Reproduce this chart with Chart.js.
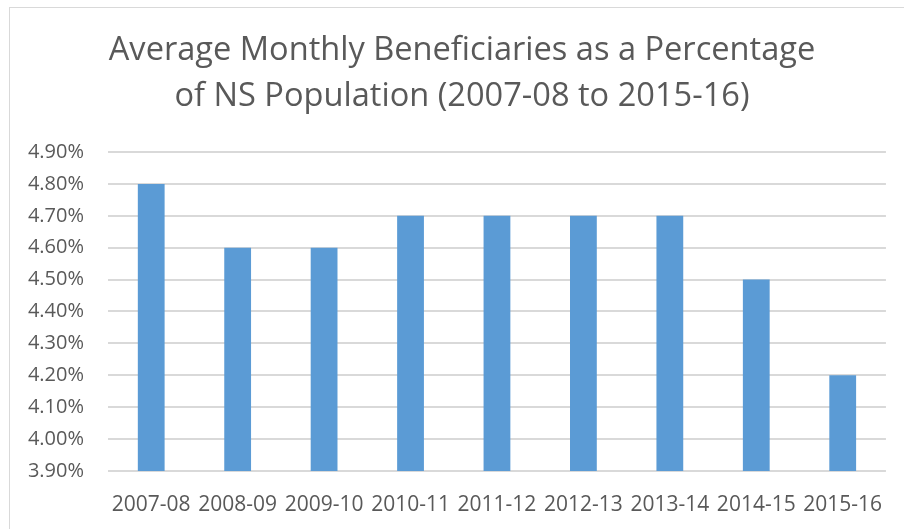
<!DOCTYPE html>
<html>
<head>
<meta charset="utf-8">
<script src="https://cdn.jsdelivr.net/npm/chart.js@4/dist/chart.umd.min.js"></script>
<style>
    html, body { margin: 0; padding: 0; background: #fff; overflow: hidden; }
    #frame { position: absolute; left: 9px; top: 7px; width: 920px; height: 540px; border: 1px solid #d9d9d9; }
    #wrap { position: absolute; left: 0; top: 0; width: 904px; height: 529px; }
</style>
</head>
<body>
<div id="frame"></div>
<div id="wrap"><canvas id="myChart"></canvas></div>
<script>
    const titleLines = ['Average Monthly Beneficiaries as a Percentage', 'of NS Population (2007-08 to 2015-16)'];
    const years = ['2007-08', '2008-09', '2009-10', '2010-11', '2011-12', '2012-13', '2013-14', '2014-15', '2015-16'];
    const percentValues = [4.8, 4.6, 4.6, 4.7, 4.7, 4.7, 4.7, 4.5, 4.2];
    const yMin = 3.9;
    const yMax = 4.9;
    const yStep = 0.1;

    const ctx = document.getElementById('myChart');
    const textColor = '#595959';
    const gridColor = '#d9d9d9';

    // the title in the original is centred on the whole frame, not on the canvas
    const titleShift = {
        id: 'titleShift',
        afterLayout: function (chart) {
            chart.titleBlock.left += 36;
        }
    };

    new Chart(ctx, {
        type: 'bar',
        data: {
            labels: years,
            datasets: [{
                label: 'Beneficiaries %',
                data: percentValues,
                backgroundColor: '#5b9bd5',
                categoryPercentage: 0.31,
                barPercentage: 1.0
            }]
        },
        options: {
            responsive: true,
            maintainAspectRatio: false,
            animation: false,
            layout: {
                padding: { top: 28, left: 0, right: 16, bottom: 0 }
            },
            plugins: {
                legend: { display: false },
                tooltip: { enabled: false },
                title: {
                    display: true,
                    text: titleLines,
                    color: textColor,
                    font: { family: 'Open Sans', size: 32.6, weight: 'normal', lineHeight: '46px' },
                    padding: { top: 0, bottom: 32 }
                }
            },
            scales: {
                x: {
                    grid: { display: false, drawTicks: false },
                    border: { display: false },
                    ticks: {
                        color: textColor,
                        font: { family: 'Open Sans', size: 21 },
                        padding: 21,
                        maxRotation: 0,
                        autoSkip: false
                    },
                    afterFit: function (scale) { scale.height = 58; }
                },
                y: {
                    min: yMin,
                    max: yMax,
                    grid: { color: gridColor, lineWidth: 2, drawTicks: false },
                    border: { display: false },
                    ticks: {
                        stepSize: yStep,
                        color: textColor,
                        font: { family: 'Open Sans', size: 20 },
                        padding: 24,
                        callback: function (value) { return value.toFixed(2) + '%'; }
                    },
                    afterFit: function (scale) { scale.width = 108; }
                }
            }
        },
        plugins: [titleShift]
    });
</script>
</body>
</html>
